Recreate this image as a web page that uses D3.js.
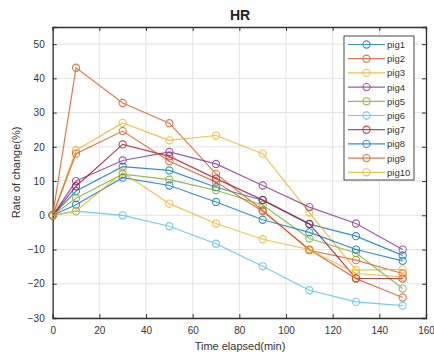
<!DOCTYPE html>
<html>
<head>
<meta charset="utf-8">
<script src="https://cdn.jsdelivr.net/npm/d3@7"></script>
<style>
html,body{margin:0;padding:0;background:#fff;}
svg{display:block;font-family:"Liberation Sans",Arial,sans-serif;}
</style>
</head>
<body>
<svg id="chart" width="434" height="363"></svg>
<script>
const times = [0, 10, 30, 50, 70, 90, 110, 130, 150];
const seriesNames = ["pig1","pig2","pig3","pig4","pig5","pig6","pig7","pig8","pig9","pig10"];
const pig1  = [0, 7.1, 14.2, 13.1, 8.2, 4.4, -2.6, -6.1, -11.7];
const pig2  = [0, 43.1, 32.8, 26.9, 12.1, 1.5, -10.2, -13.1, -17.0];
const pig3  = [0, 19.0, 27.0, 21.9, 23.3, 18.0, 0.8, -16.0, -15.8];
const pig4  = [0, 10.0, 16.0, 18.5, 15.0, 8.7, 2.4, -2.4, -10.0];
const pig5  = [0, 5.0, 12.0, 10.4, 7.3, 3.0, -6.8, -11.0, -21.4];
const pig6  = [0, 1.2, 0.0, -3.2, -8.3, -14.9, -21.9, -25.3, -26.4];
const pig7  = [0, 8.5, 20.7, 17.2, 10.7, 4.5, -2.5, -18.4, -18.5];
const pig8  = [0, 3.1, 11.0, 8.7, 3.9, -1.3, -5.0, -10.0, -13.3];
const pig9  = [0, 18.0, 24.6, 15.8, 9.7, 1.2, -10.0, -18.5, -24.0];
const pig10 = [0, 1.2, 12.5, 3.4, -2.4, -7.0, -10.0, -17.0, -18.0];
const seriesValues = [pig1,pig2,pig3,pig4,pig5,pig6,pig7,pig8,pig9,pig10];
const colors = ["#0072BD","#D95319","#EDB120","#7E2F8E","#77AC30","#4DBEEE","#A2142F","#0072BD","#D95319","#EDB120"];
const xTicks = [0,20,40,60,80,100,120,140,160];
const yTicks = [-30,-20,-10,0,10,20,30,40,50];

const svg = d3.select("#chart");
const L = 52.7, R = 426, T = 27, B = 318;
const x = d3.scaleLinear().domain([0,160]).range([L,R]);
const y = d3.scaleLinear().domain([-30,55]).range([B,T]);

// grid
const g = svg.append("g");
g.selectAll(".gx").data(xTicks).join("line")
  .attr("x1",d=>x(d)).attr("x2",d=>x(d)).attr("y1",T).attr("y2",B)
  .attr("stroke","#e3e3e3").attr("stroke-width",1);
g.selectAll(".gy").data(yTicks).join("line")
  .attr("x1",L).attr("x2",R).attr("y1",d=>y(d)).attr("y2",d=>y(d))
  .attr("stroke","#e3e3e3").attr("stroke-width",1);

// axes
const axColor = "#333";
const xb = svg.append("g").attr("transform",`translate(0,${B})`)
  .call(d3.axisBottom(x).tickValues(xTicks).tickSize(-4).tickPadding(9));
const xt = svg.append("g").attr("transform",`translate(0,${T})`)
  .call(d3.axisTop(x).tickValues(xTicks).tickSize(-4).tickFormat(""));
const yl = svg.append("g").attr("transform",`translate(${L},0)`)
  .call(d3.axisLeft(y).tickValues(yTicks).tickSize(-4).tickPadding(8));
const yr = svg.append("g").attr("transform",`translate(${R},0)`)
  .call(d3.axisRight(y).tickValues(yTicks).tickSize(-4).tickFormat(""));
[xb,xt,yl,yr].forEach(a=>{
  a.select(".domain").attr("stroke",axColor).attr("stroke-width",1.3);
  a.selectAll(".tick line").attr("stroke",axColor);
  a.selectAll(".tick text").attr("fill","#333").attr("font-size","10px")
   .attr("font-family","'Liberation Sans',Arial,sans-serif");
});

// lines
const line = d3.line().x((d,i)=>x(times[i])).y(d=>y(d));
seriesValues.forEach((vals,k)=>{
  const s = svg.append("g").attr("opacity",0.78);
  s.append("path").datum(vals).attr("d",line)
    .attr("fill","none").attr("stroke",colors[k]).attr("stroke-width",1.2);
  s.selectAll("circle").data(vals).join("circle")
    .attr("cx",(d,i)=>x(times[i])).attr("cy",d=>y(d)).attr("r",3.6)
    .attr("fill","none").attr("stroke",colors[k]).attr("stroke-width",1.1);
});

// legend
const lg = svg.append("g");
const lx = 344, ly = 36, lw = 70, lh = 144;
lg.append("rect").attr("x",lx).attr("y",ly).attr("width",lw).attr("height",lh)
  .attr("fill","#fff").attr("stroke","#333").attr("stroke-width",0.9);
seriesNames.forEach((n,k)=>{
  const yy = ly + 8.5 + k*14.2;
  const e = lg.append("g").attr("opacity",0.78);
  e.append("line").attr("x1",lx+4).attr("x2",lx+41).attr("y1",yy).attr("y2",yy)
    .attr("stroke",colors[k]).attr("stroke-width",1.2);
  e.append("circle").attr("cx",lx+22.5).attr("cy",yy).attr("r",3.6)
    .attr("fill","none").attr("stroke",colors[k]).attr("stroke-width",1.1);
  lg.append("text").attr("x",lx+43).attr("y",yy+3.5).text(n)
    .attr("font-size","9.5px").attr("fill","#333");
});

// title and labels
svg.append("text").attr("x",240).attr("y",20).attr("text-anchor","middle")
  .attr("font-size","14px").attr("font-weight","bold").attr("fill","#222").text("HR");
svg.append("text").attr("x",240).attr("y",350).attr("text-anchor","middle")
  .attr("font-size","11px").attr("fill","#333").text("Time elapsed(min)");
svg.append("text").attr("transform",`translate(20,${(T+B)/2}) rotate(-90)`)
  .attr("text-anchor","middle").attr("font-size","11px").attr("fill","#333")
  .text("Rate of change(%)");
</script>
</body>
</html>
